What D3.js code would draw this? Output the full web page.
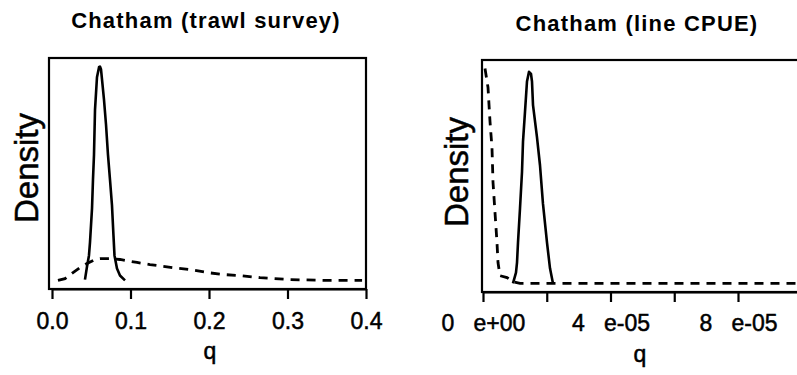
<!DOCTYPE html>
<html>
<head>
<meta charset="utf-8">
<script src="https://cdn.jsdelivr.net/npm/d3@7"></script>
<style>
  html, body { margin: 0; padding: 0; background: #fff; }
  svg { display: block; }
  text { font-family: "Liberation Sans", Arial, Helvetica, sans-serif; fill: #000; }
</style>
</head>
<body>
<svg id="chart" width="797" height="375"></svg>
<script>
// ---------- Data ----------
// Left panel: Chatham (trawl survey)
const trawlTitle = "Chatham (trawl survey)";
const trawlTicks = [0, 0.1, 0.2, 0.3, 0.4];
const trawlTickLabels = ["0.0", "0.1", "0.2", "0.3", "0.4"];
const trawlSolidQ = [0.042, 0.0446, 0.0471, 0.0484, 0.051, 0.0522, 0.0535, 0.0548, 0.0573, 0.0599, 0.0611, 0.0624, 0.0637, 0.0662, 0.0688, 0.0713, 0.0739, 0.0764, 0.0783, 0.0796, 0.0828, 0.0866, 0.093];
const trawlSolidD = [0.004, 0.065, 0.117, 0.178, 0.338, 0.47, 0.588, 0.799, 0.95, 0.997, 1.0, 0.988, 0.94, 0.846, 0.729, 0.588, 0.47, 0.352, 0.211, 0.117, 0.056, 0.023, 0.0];
const trawlDashQ = [0.0076, 0.0166, 0.0268, 0.0357, 0.0446, 0.0548, 0.0611, 0.0739, 0.0866, 0.1083, 0.1248, 0.1541, 0.1758, 0.1975, 0.2204, 0.2395, 0.265, 0.3032, 0.3541, 0.395];
const trawlDashD = [0.0, 0.008, 0.037, 0.06, 0.079, 0.098, 0.102, 0.102, 0.098, 0.084, 0.074, 0.06, 0.051, 0.037, 0.027, 0.023, 0.013, 0.004, 0.0, 0.0];

// Right panel: Chatham (line CPUE)
const cpueTitle = "Chatham (line CPUE)";
const cpueTicks = [0, 2e-5, 4e-5, 6e-5, 8e-5, 1e-4];
const cpueTickLabels = ["0   e+00", "", "4   e-05", "", "8   e-05", ""];
const cpueSolidQ = [0.94e-5, 1.035e-5, 1.067e-5, 1.098e-5, 1.161e-5, 1.224e-5, 1.255e-5, 1.318e-5, 1.38e-5, 1.443e-5, 1.506e-5, 1.537e-5, 1.569e-5, 1.694e-5, 1.788e-5, 1.882e-5, 2.008e-5, 2.102e-5, 2.196e-5];
const cpueSolidD = [0.0, 0.05, 0.097, 0.19, 0.35, 0.52, 0.66, 0.8, 0.94, 0.985, 0.975, 0.94, 0.83, 0.68, 0.55, 0.37, 0.19, 0.07, 0.0];
const cpueDashQ = [0.063e-5, 0.157e-5, 0.22e-5, 0.282e-5, 0.314e-5, 0.376e-5, 0.439e-5, 0.471e-5, 0.533e-5, 0.753e-5, 0.941e-5, 1.161e-5, 2e-5, 4e-5, 6e-5, 8e-5, 10e-5];
const cpueDashD = [1.0, 0.912, 0.753, 0.631, 0.471, 0.331, 0.19, 0.097, 0.036, 0.027, 0.008, 0.0, 0.0, 0.0, 0.0, 0.0, 0.0];

const xLabel = "q";
const yLabel = "Density";

// ---------- Layout ----------
const svg = d3.select("#chart");

const panels = [
  {
    title: trawlTitle, ticks: trawlTicks, labels: trawlTickLabels,
    xDomain: [0, 0.4], xRange: [52, 366],
    box: { x0: 49, x1: 366, y0: 58, y1: 289 },
    solid: trawlSolidQ.map((q, i) => [q, trawlSolidD[i]]),
    dash: trawlDashQ.map((q, i) => [q, trawlDashD[i]]),
    titleX: 206, titleY: 28, ylabX: 38, ylabY: 168,
    tickY: 329, qY: 359, qX: 210
  },
  {
    title: cpueTitle, ticks: cpueTicks, labels: cpueTickLabels,
    xDomain: [0, 1e-4], xRange: [483, 801.75],
    box: { x0: 482, x1: 800, y0: 60, y1: 292 },
    solid: cpueSolidQ.map((q, i) => [q, cpueSolidD[i]]),
    dash: cpueDashQ.map((q, i) => [q, cpueDashD[i]]),
    titleX: 637, titleY: 31, ylabX: 468, ylabY: 172,
    tickY: 331, qY: 362, qX: 640
  }
];

panels.forEach(p => {
  const g = svg.append("g");
  const x = d3.scaleLinear().domain(p.xDomain).range(p.xRange);
  const maxD = d3.max(p.solid.concat(p.dash), d => d[1]);
  const pad = 0.04 * maxD;
  const y = d3.scaleLinear().domain([-pad, maxD + pad]).range([p.box.y1, p.box.y0]);

  // Box
  g.append("rect")
    .attr("x", p.box.x0).attr("y", p.box.y0)
    .attr("width", p.box.x1 - p.box.x0).attr("height", p.box.y1 - p.box.y0)
    .attr("fill", "none").attr("stroke", "#000").attr("stroke-width", 2.2);

  // X axis
  const axis = d3.axisBottom(x)
    .tickValues(p.ticks)
    .tickSize(10)
    .tickSizeOuter(0)
    .tickFormat((d, i) => p.labels[i]);
  const ax = g.append("g").attr("transform", `translate(0,${p.box.y1})`).call(axis);
  ax.select(".domain").attr("stroke", "#000").attr("stroke-width", 2.2);
  ax.selectAll(".tick line").attr("stroke", "#000").attr("stroke-width", 2.2);
  ax.selectAll(".tick text")
    .attr("y", p.tickY - p.box.y1).attr("dy", null)
    .style("font-size", "23px")
    .style("font-family", "'Liberation Sans', Arial, sans-serif")
    .style("white-space", "pre")
    .attr("fill", "#000")
    .attr("stroke", "#000").attr("stroke-width", 0.5);

  // Lines
  const line = d3.line().x(d => x(d[0])).y(d => y(d[1])).curve(d3.curveLinear);
  g.append("path").datum(p.solid)
    .attr("d", line).attr("fill", "none").attr("stroke", "#000")
    .attr("stroke-width", 2.6).attr("stroke-linejoin", "round");
  g.append("path").datum(p.dash)
    .attr("d", line).attr("fill", "none").attr("stroke", "#000")
    .attr("stroke-width", 2.8).attr("stroke-dasharray", "9,7");

  // Title
  g.append("text").attr("x", p.titleX).attr("y", p.titleY)
    .attr("text-anchor", "middle")
    .style("font-size", "22px").style("font-weight", "bold")
    .style("letter-spacing", "1.2px")
    .text(p.title);

  // Y label
  g.append("text")
    .attr("transform", `translate(${p.ylabX},${p.ylabY}) rotate(-90)`)
    .attr("text-anchor", "middle")
    .style("font-size", "33px")
    .attr("stroke", "#000").attr("stroke-width", 0.5)
    .text(yLabel);

  // X label
  g.append("text").attr("x", p.qX).attr("y", p.qY)
    .attr("text-anchor", "middle")
    .style("font-size", "23px")
    .attr("stroke", "#000").attr("stroke-width", 0.5)
    .text(xLabel);
});
</script>
</body>
</html>
